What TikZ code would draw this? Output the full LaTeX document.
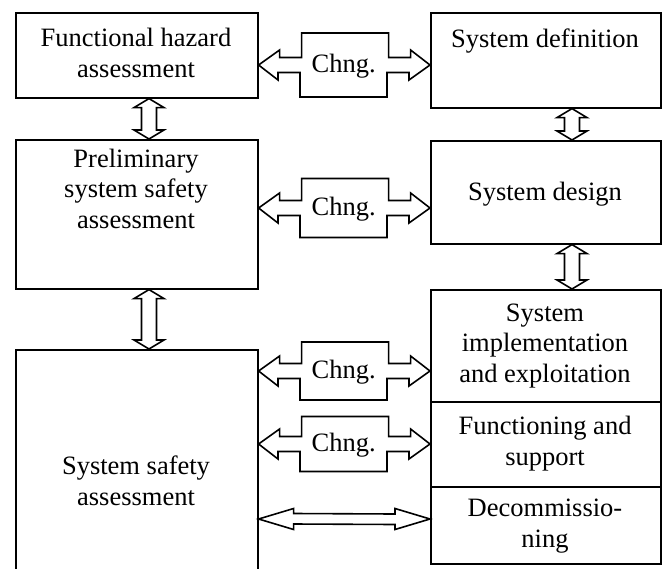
\documentclass[tikz,border=0pt]{standalone}
\usepackage{fontspec}
\setmainfont{Liberation Serif}
\usetikzlibrary{calc}
\tikzset{
  box/.style={draw, line width=1.6pt, inner sep=0pt, anchor=north west},
  txt/.style={align=center, inner sep=0pt, font=\fontsize{26.5}{30.5}\selectfont, anchor=base},
  arrowline/.style={draw, line width=1.6pt, line join=miter, fill=white},
}
\newcommand\chngarrow[4]{% left node, right node, center y, box half height
  \coordinate (cy#1#2) at (0,#3);
  \draw[arrowline] (#1.east |- cy#1#2) -- ++(21,-15) -- ++(0,7.5) -- ++(22,0)
    -- ++(0,-#4+7.5) -- ++(87,0) -- ++(0,#4-7.5) -- ++(22,0) -- ++(0,-7.5)
    -- (#2.west |- cy#1#2) -- ++(-21,15) -- ++(0,-7.5) -- ++(-22,0)
    -- ++(0,#4-7.5) -- ++(-87,0) -- ++(0,-#4+7.5) -- ++(-22,0) -- ++(0,7.5) -- cycle;
  \node[txt] (ch#1#2) at ($(#1.east |- cy#1#2)+(85,7)$) {Chng.};
}
\newcommand\vdarrow[3]{% upper node, lower node, x coordinate
  \draw[arrowline] (#1.south -| #3) -- ++(15,9) -- ++(-7.5,0)
    -- ($(#2.north -| #3)+(7.5,-9)$) -- ++(7.5,0) -- (#2.north -| #3)
    -- ++(-15,-9) -- ++(7.5,0) -- ($(#1.south -| #3)+(-7.5,9)$) -- ++(-7.5,0) -- cycle;
}
\begin{document}
\begin{tikzpicture}[x=1pt,y=-1pt]
\clip (0,0) rectangle (667,568);
\fill[white] (0,0) rectangle (667,568);
% left boxes
\node[box, minimum width=242pt, minimum height=85pt] (fha) at (15,12) {};
\node[box, minimum width=242pt, minimum height=149pt] (prelim) at (15,139) {};
\node[box, minimum width=242pt, minimum height=230pt] (ssa) at (15,349) {};
% right boxes
\node[box, minimum width=230pt, minimum height=95pt] (sdef) at (430,12) {};
\node[box, minimum width=230pt, minimum height=103pt] (sdes) at (430,140) {};
\node[box, minimum width=230pt, minimum height=112pt] (impl) at (430,289) {};
\node[box, minimum width=230pt, minimum height=85pt] (func) at (430,401) {};
\node[box, minimum width=230pt, minimum height=77pt] (decom) at (430,486) {};
% texts (anchor = baseline of last line)
\node[txt] (tfha) at (136,77) {Functional hazard\\assessment};
\node[txt] (tprelim) at (136,228) {Preliminary\\system safety\\assessment};
\node[txt] (tssa) at (136,505) {System safety\\assessment};
\node[txt] (tsdef) at (545,47) {System definition};
\node[txt] (tsdes) at (545,200) {System design};
\node[txt] (timpl) at (545,382) {System\\implementation\\and exploitation};
\node[txt] (tfunc) at (545,465) {Functioning and\\support};
\node[txt] (tdecom) at (545,547) {Decommissio-\\ning};
% change arrows
\chngarrow{fha}{sdef}{65}{32}
\chngarrow{prelim}{sdes}{208}{29.5}
\chngarrow{ssa}{impl}{371}{29}
\chngarrow{ssa}{func}{444}{27.5}
% vertical arrows
\coordinate (vl) at (149,0);
\coordinate (vr) at (572,0);
\vdarrow{fha}{prelim}{vl}
\vdarrow{prelim}{ssa}{vl}
\vdarrow{sdef}{sdes}{vr}
\vdarrow{sdes}{impl}{vr}
% bottom arrow
\coordinate (by) at (0,519);
\draw[arrowline] (ssa.east |- by) -- ++(35,-10.5) -- ++(0,5) -- ($(decom.west |- by)+(-35,-5)$)
  -- ++(0,-5.5) -- (decom.west |- by) -- ++(-35,10.5) -- ++(0,-5)
  -- ($(ssa.east |- by)+(35,5)$) -- ++(0,5.5) -- cycle;
\end{tikzpicture}
\end{document}
